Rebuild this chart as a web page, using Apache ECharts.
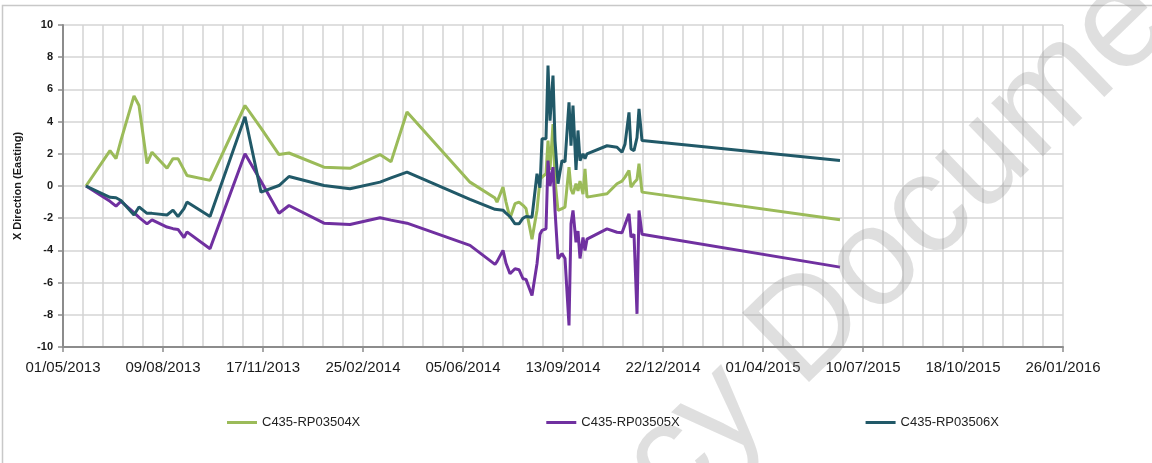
<!DOCTYPE html>
<html>
<head>
<meta charset="utf-8">
<script src="https://cdn.jsdelivr.net/npm/echarts@6/dist/echarts.min.js"></script>
<style>
  html, body { margin: 0; padding: 0; background: #fff; }
  #chart { width: 1152px; height: 463px; }
</style>
</head>
<body>
<div id="chart"></div>
<script>
// survey dates (shared by the three points)
const dates = [
    '2013-05-24', '2013-06-17', '2013-06-23', '2013-06-28', '2013-07-11', '2013-07-16',
    '2013-07-24', '2013-07-29', '2013-08-13', '2013-08-19', '2013-08-24', '2013-08-30',
    '2013-09-02', '2013-09-25', '2013-10-30', '2013-11-15', '2013-12-03', '2013-12-13',
    '2014-01-17', '2014-02-12', '2014-03-14', '2014-03-25', '2014-04-10', '2014-06-12',
    '2014-07-07', '2014-07-09', '2014-07-15', '2014-07-18', '2014-07-22', '2014-07-27',
    '2014-07-31', '2014-08-04', '2014-08-07', '2014-08-13', '2014-08-18', '2014-08-21',
    '2014-08-23', '2014-08-27', '2014-08-29', '2014-08-31', '2014-09-03', '2014-09-05',
    '2014-09-08', '2014-09-12', '2014-09-15', '2014-09-19', '2014-09-21', '2014-09-23',
    '2014-09-26', '2014-09-28', '2014-09-30', '2014-10-03', '2014-10-05', '2014-10-07',
    '2014-10-27', '2014-11-06', '2014-11-11', '2014-11-14', '2014-11-18', '2014-11-20',
    '2014-11-23', '2014-11-26', '2014-11-28', '2014-12-01', '2015-06-17'
];

const rp03504 = [
    0, 2.2, 1.7, 2.85, 5.6, 5.0,
    1.4, 2.1, 1.1, 1.7, 1.7, 1.0,
    0.65, 0.35, 5.0, 3.6, 1.95, 2.05,
    1.17, 1.1, 1.95, 1.5, 4.6, 0.24,
    -0.75, -1.0, -0.07, -1.0, -2.0, -1.1,
    -1.0, -1.2, -1.4, -3.3, -1.5, 0.4,
    0.55, 0.76, 2.82, 1.0, 3.85, 0.34,
    -1.52, -1.4, -1.31, 1.17, -0.2, -0.5,
    0.14, -0.3, 0.3, -0.5, 1.07, -0.69,
    -0.48, 0.14, 0.3, 0.55, 0.96, -0.07,
    0.2, 0.4, 1.38, -0.38, -2.1
];

const rp03505 = [
    0, -0.95, -1.25, -0.95, -1.65, -1.95,
    -2.35, -2.1, -2.55, -2.65, -2.7, -3.2,
    -2.85, -3.9, 2.0, 0.3, -1.69, -1.21,
    -2.31, -2.39, -1.97, -2.12, -2.31, -3.69,
    -4.87, -4.7, -4.0, -4.8, -5.45, -5.14,
    -5.2, -5.76, -5.8, -6.8, -4.83, -3.0,
    -2.76, -2.66, 1.58, 0.0, 1.17, -1.5,
    -4.52, -4.2, -4.5, -8.66, -2.35, -1.52,
    -3.5, -2.8, -4.5, -3.2, -4.0, -3.3,
    -2.66, -2.87, -2.9, -2.4, -1.73, -3.18,
    -3.0, -7.94, -1.52, -3.0, -5.04
];

const rp03506 = [
    0, -0.7, -0.73, -0.9, -1.8, -1.3,
    -1.7, -1.7, -1.8, -1.5, -1.9, -1.4,
    -1.0, -1.9, 4.3, -0.38, 0.03, 0.59,
    0.03, -0.17, 0.24, 0.5, 0.86, -0.83,
    -1.45, -1.52, -1.5, -1.69, -1.9, -2.35,
    -2.35, -2.0, -1.89, -1.94, 0.76, -0.1,
    2.93, 2.93, 7.48, 4.06, 6.86, 2.82,
    0.14, 1.58, 1.5, 5.2, 2.5, 5.0,
    1.0, 3.45, 1.58, 2.0, 1.69, 2.0,
    2.5, 2.41, 2.1, 2.6, 4.57, 2.3,
    2.2, 3.0, 4.79, 2.82, 1.58
];

const seriesNames = ['C435-RP03504X', 'C435-RP03505X', 'C435-RP03506X'];
const seriesColors = ['#9BBB59', '#7030A0', '#215968'];

// x axis runs in days counted from 01/05/2013
const startMs = Date.UTC(2013, 4, 1);
const DAY = 86400000;

function toDay(s) {
    return Math.round((Date.parse(s) - startMs) / DAY);
}

function dayLabel(v) {
    const d = new Date(startMs + v * DAY);
    const dd = String(d.getUTCDate()).padStart(2, '0');
    const mm = String(d.getUTCMonth() + 1).padStart(2, '0');
    return dd + '/' + mm + '/' + d.getUTCFullYear();
}

function pairs(values) {
    return values.map((v, i) => [toDay(dates[i]), v]);
}

const font = "'Liberation Sans', Arial, sans-serif";

const chart = echarts.init(document.getElementById('chart'), null, { renderer: 'canvas' });
chart.setOption({
    animation: false,
    backgroundColor: '#fff',
    textStyle: { fontFamily: font },
    grid: {
        left: 63,
        right: 89,
        top: 25,
        bottom: 116
    },
    graphic: [
        {
            type: 'rect',
            shape: { x: 2.5, y: 5.5, width: 1300, height: 600 },
            style: { fill: 'none', stroke: '#c8c8c8', lineWidth: 1.5 },
            silent: true,
            z: 0
        },
        {
            type: 'text',
            x: 827,
            y: 311,
            rotation: 44 * Math.PI / 180,
            style: {
                text: 'Legacy Document',
                font: '140px ' + font,
                fill: 'rgba(140,140,140,0.28)',
                textAlign: 'center',
                textVerticalAlign: 'middle'
            },
            silent: true,
            z: 100
        }
    ],
    legend: {
        left: 222,
        top: 411,
        icon: 'rect',
        itemWidth: 30,
        itemHeight: 3,
        itemGap: 186,
        textStyle: { fontSize: 13, color: '#222', fontFamily: font },
        data: seriesNames
    },
    xAxis: {
        type: 'value',
        min: 0,
        max: 1000,
        interval: 100,
        axisLine: { onZero: false, lineStyle: { color: '#8c8c8c', width: 2 } },
        axisTick: { show: true, length: 5, lineStyle: { color: '#8c8c8c', width: 1.5 } },
        axisLabel: {
            margin: 13,
            fontSize: 15,
            color: '#1a1a1a',
            formatter: dayLabel
        },
        splitLine: { show: true, lineStyle: { color: '#d4d4d4', width: 1.5 } },
        minorTick: { show: false, splitNumber: 5 },
        minorSplitLine: { show: true, lineStyle: { color: '#d4d4d4', width: 1.5 } }
    },
    yAxis: {
        type: 'value',
        min: -10,
        max: 10,
        interval: 2,
        name: 'X Direction (Easting)',
        nameLocation: 'middle',
        nameGap: 40,
        nameTextStyle: { fontSize: 11, fontWeight: 'bold', color: '#1a1a1a' },
        axisLine: { show: true, onZero: false, lineStyle: { color: '#8c8c8c', width: 2 } },
        axisTick: { show: true, length: 5, lineStyle: { color: '#8c8c8c', width: 1.5 } },
        axisLabel: { margin: 10, fontSize: 11, fontWeight: 'bold', color: '#1a1a1a' },
        splitLine: { show: true, lineStyle: { color: '#d4d4d4', width: 1.5 } }
    },
    series: [
        {
            name: seriesNames[0],
            type: 'line',
            data: pairs(rp03504),
            showSymbol: false,
            color: seriesColors[0],
            lineStyle: { width: 3 }
        },
        {
            name: seriesNames[1],
            type: 'line',
            data: pairs(rp03505),
            showSymbol: false,
            color: seriesColors[1],
            lineStyle: { width: 3 }
        },
        {
            name: seriesNames[2],
            type: 'line',
            data: pairs(rp03506),
            showSymbol: false,
            color: seriesColors[2],
            lineStyle: { width: 3 }
        }
    ]
});
</script>
</body>
</html>
